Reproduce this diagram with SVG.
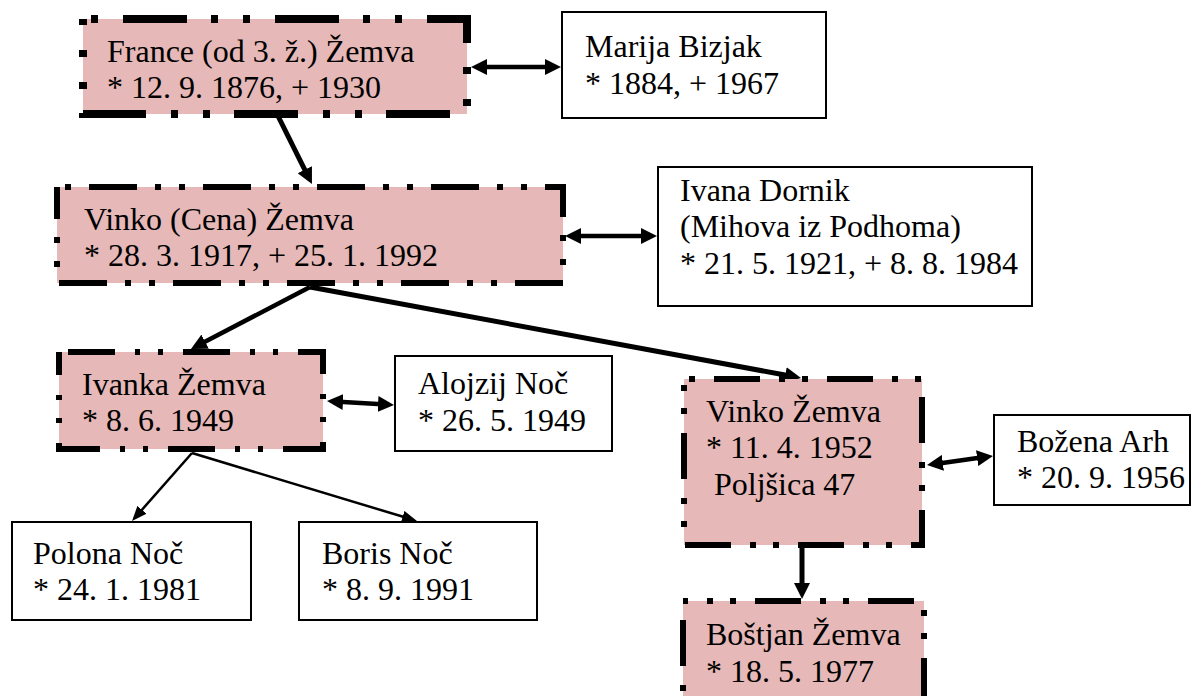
<svg xmlns="http://www.w3.org/2000/svg" width="1203" height="696" viewBox="0 0 1203 696">
<style>
text{font-family:"Liberation Serif","Times New Roman",serif;font-size:32px;fill:#000}
.pk{fill:#E6B8B7;stroke:#000;stroke-linecap:butt}
.b8{stroke-width:8;stroke-dasharray:64 24 7 25 7 25}
.b6{stroke-width:6;stroke-dasharray:48 18 6 18 6 18}
.b6b{stroke-width:6;stroke-dasharray:47 20 5 18 5 20}
.b6c{stroke-width:6;stroke-dasharray:46 19 6 17 6 19}
.wb{fill:#fff;stroke:#000;stroke-width:2}
.c{stroke:#000;fill:none}
.t5{stroke-width:5}
.t4{stroke-width:4.5}
.t2{stroke-width:2.5}
</style>
<defs>
<marker id="ah" markerUnits="userSpaceOnUse" viewBox="0 0 16 16" refX="4" refY="8" markerWidth="16" markerHeight="16" orient="auto-start-reverse">
<path d="M0,0 L16,8 L0,16 Z" fill="#000"/>
</marker>
<marker id="ahs" markerUnits="userSpaceOnUse" viewBox="0 0 15 12" refX="4" refY="6" markerWidth="15" markerHeight="12" orient="auto">
<path d="M0,0 L15,6 L0,12 Z" fill="#000"/>
</marker>
</defs>

<g id="connectors">
<line class="c t5" x1="277" y1="114" x2="306.6" y2="173.3" marker-end="url(#ah)"/>
<line class="c t4" x1="483" y1="67" x2="549" y2="67" marker-start="url(#ah)" marker-end="url(#ah)"/>
<line class="c t4" x1="577" y1="236" x2="645" y2="236" marker-start="url(#ah)" marker-end="url(#ah)"/>
<line class="c t4" x1="310" y1="287" x2="201.6" y2="343.5" marker-end="url(#ah)"/>
<line class="c t5" x1="310" y1="287" x2="789.2" y2="375.8" marker-end="url(#ah)"/>
<line class="c t4" x1="339" y1="401.7" x2="382" y2="404.3" marker-start="url(#ah)" marker-end="url(#ah)"/>
<line class="c t2" x1="192" y1="453" x2="139.3" y2="512.8" marker-end="url(#ahs)"/>
<line class="c t2" x1="192" y1="453" x2="406.5" y2="517.8" marker-end="url(#ahs)"/>
<line class="c t4" x1="938.9" y1="463.4" x2="981.1" y2="457.6" marker-start="url(#ah)" marker-end="url(#ah)"/>
<line class="c t5" x1="802" y1="547" x2="802" y2="587" marker-end="url(#ah)"/>
</g>

<g id="france">
<rect class="pk b8" x="83" y="19" width="384" height="95" stroke-dashoffset="112"/>
<text x="107" y="61.7">France (od 3. ž.) Žemva</text>
<text x="107" y="98.3">* 12. 9. 1876, + 1930</text>
</g>

<g id="marija">
<rect class="wb" x="562" y="12" width="264" height="106"/>
<text x="585" y="57">Marija Bizjak</text>
<text x="585" y="93.7">* 1884, + 1967</text>
</g>

<g id="vinko-cena">
<rect class="pk b6" x="57" y="187" width="506" height="96" stroke-dashoffset="82"/>
<text x="84" y="229.7">Vinko (Cena) Žemva</text>
<text x="84" y="266.3">* 28. 3. 1917, + 25. 1. 1992</text>
</g>

<g id="ivana">
<rect class="wb" x="658" y="167" width="374" height="139"/>
<text x="680" y="200.5">Ivana Dornik</text>
<text x="680" y="237.2">(Mihova iz Podhoma)</text>
<text x="680" y="273.9">* 21. 5. 1921, + 8. 8. 1984</text>
</g>

<g id="ivanka">
<rect class="pk b6b" x="59" y="352" width="264" height="97" stroke-dashoffset="106"/>
<text x="82" y="394.7">Ivanka Žemva</text>
<text x="82" y="431.3">* 8. 6. 1949</text>
</g>

<g id="alojzij">
<rect class="wb" x="395" y="356" width="217" height="95"/>
<text x="418" y="394">Alojzij Noč</text>
<text x="418" y="430.7">* 26. 5. 1949</text>
</g>

<g id="vinko">
<rect class="pk b6c" x="684" y="379" width="238" height="166" stroke-dashoffset="83"/>
<text x="706" y="421.5">Vinko Žemva</text>
<text x="706" y="458.2">* 11. 4. 1952</text>
<text x="714" y="494.9">Poljšica 47</text>
</g>

<g id="bozena">
<rect class="wb" x="994" y="415" width="196" height="90"/>
<text x="1017" y="451.5">Božena Arh</text>
<text x="1017" y="488.2">* 20. 9. 1956</text>
</g>

<g id="polona">
<rect class="wb" x="12" y="522" width="239" height="98"/>
<text x="33" y="563.5">Polona Noč</text>
<text x="33" y="600.2">* 24. 1. 1981</text>
</g>

<g id="boris">
<rect class="wb" x="299" y="522" width="238" height="98"/>
<text x="322" y="563.5">Boris Noč</text>
<text x="322" y="600.2">* 8. 9. 1991</text>
</g>

<g id="bostjan">
<rect class="pk b6c" x="683" y="601" width="241" height="110" stroke-dashoffset="41"/>
<text x="706" y="645">Boštjan Žemva</text>
<text x="706" y="681.7">* 18. 5. 1977</text>
</g>
</svg>
